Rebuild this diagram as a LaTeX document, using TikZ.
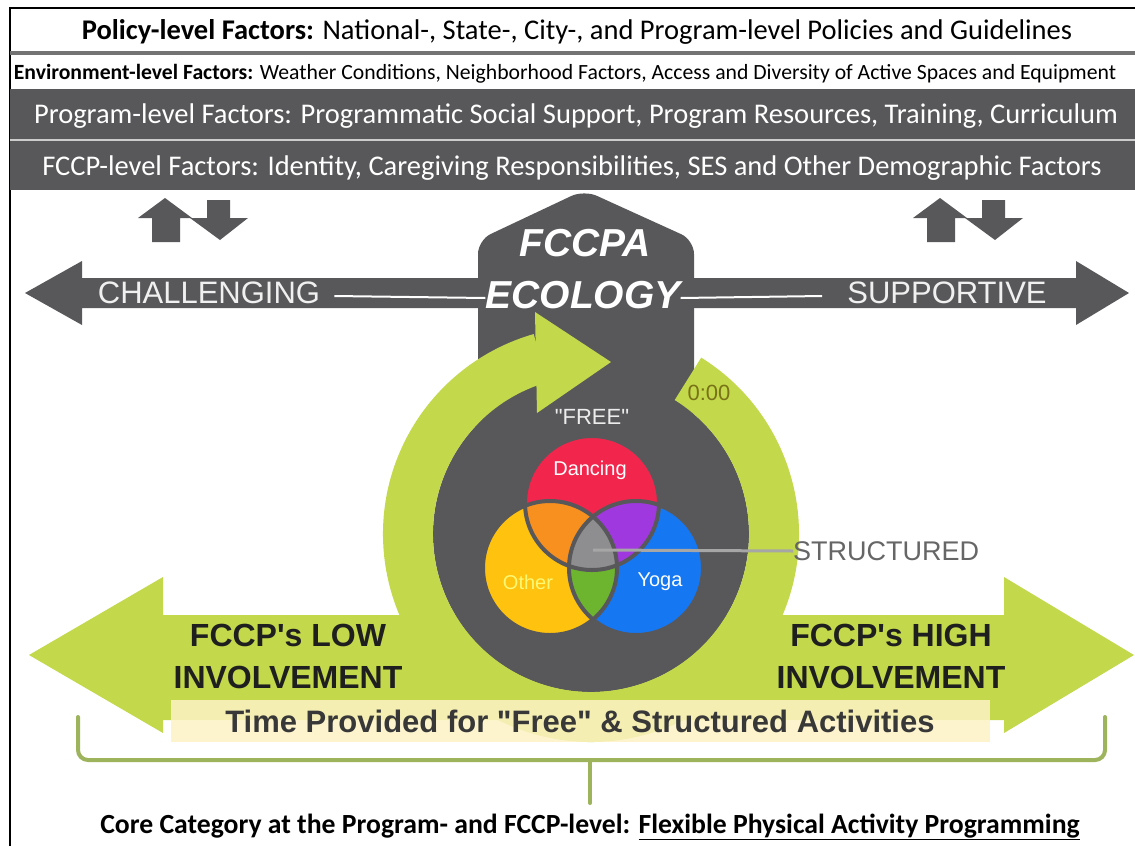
\documentclass[tikz,border=0pt]{standalone}
\usepackage{fontspec}
\setmainfont{Carlito}
\newfontfamily\arialfont{Liberation Sans}
\usetikzlibrary{positioning}

\definecolor{ecogray}{HTML}{58585B}
\definecolor{ecogreen}{HTML}{C3D84A}
\definecolor{bracegreen}{HTML}{9DB35C}
\definecolor{boxyellow}{HTML}{FDF3C6}
\definecolor{dancered}{HTML}{F2264D}
\definecolor{otheryellow}{HTML}{FFC20F}
\definecolor{yogablue}{HTML}{1577F2}
\definecolor{mixorange}{HTML}{F7901E}
\definecolor{mixpurple}{HTML}{A038E0}
\definecolor{mixgreen}{HTML}{6DB52F}
\definecolor{mixgray}{HTML}{8E8E90}

\tikzset{
  updown/.pic={
    \fill[ecogray] (-28,22) -- (-1,2) -- (-13,2) -- (-13,-22) -- (-41,-22) -- (-41,2) -- (-55,2) -- cycle;
    \fill[ecogray] (14,20) -- (37,20) -- (37,2) -- (55,2) -- (27,-20) -- (-3,2) -- (14,2) -- cycle;
  }
}

\begin{document}
\begin{tikzpicture}[x=1pt,y=1pt,
  band text/.style={inner sep=0,font=\fontsize{28.5}{32}\selectfont},
  axis text/.style={inner sep=0,text=gray!12,font=\arialfont\fontsize{31}{36}\selectfont},
  eco title/.style={inner sep=0,text=white,font=\arialfont\bfseries\itshape\fontsize{39}{44}\selectfont},
  venn label/.style={inner sep=0,font=\arialfont\fontsize{20}{24}\selectfont},
  involve/.style={inner sep=0,align=center,text=black!88,font=\arialfont\bfseries\fontsize{32}{42}\selectfont},
  rule line/.style={white,line width=2},
  brace line/.style={bracegreen,line width=4,line cap=round}]
  \useasboundingbox (0,0) rectangle (1135,-846);
  \fill[white] (0,0) rectangle (1135,-846);
  \draw[line width=2] (10,-846) -- (10,-8) -- (1135,-8);

  %factor bands
  \draw[black!55,line width=4] (10,-53) -- (1135,-53);
  \fill[ecogray] (10,-89) rectangle (1135,-190);
  \draw[black!20,line width=2] (10,-140) -- (1135,-140);
  \node[band text] (policy) at (577,-32) {\textbf{Policy-level Factors:} National-, State-, City-, and Program-level Policies and Guidelines};
  \node[band text,font=\fontsize{21.7}{25}\selectfont] (environment) at (565,-74) {\textbf{Environment-level Factors:} Weather Conditions, Neighborhood Factors, Access and Diversity of Active Spaces and Equipment};
  \node[band text,text=white] (program) at (576,-116) {Program-level Factors: Programmatic Social Support, Program Resources, Training, Curriculum};
  \node[band text,text=white] (fccp) at (572,-168) {FCCP-level Factors: Identity, Caregiving Responsibilities, SES and Other Demographic Factors};

  %challenging / supportive axis
  \pic at (193,-220) {updown};
  \pic at (968,-220) {updown};
  \fill[ecogray] (25,-293) -- (82,-261) -- (82,-278) -- (1076,-278) -- (1076,-261) -- (1129,-293)
    -- (1076,-325) -- (1076,-308) -- (82,-308) -- (82,-325) -- cycle;

  %involvement axis
  \fill[ecogreen] (29,-655) -- (163,-577) -- (163,-615) -- (1004,-615) -- (1004,-577) -- (1134,-655)
    -- (1004,-733) -- (1004,-720) -- (163,-720) -- (163,-733) -- cycle;

  %ecology hub
  \coordinate (hub) at (591,-534);
  \fill[ecogray,rounded corners=14] (478,-450) -- (478,-240) -- (584,-190) -- (694,-240) -- (694,-450) -- cycle;
  \fill[ecogray] (hub) circle[radius=158];
  \begin{scope}[shift={(hub)}]
    \fill[ecogreen] (58:208) arc[start angle=58,end angle=-254,radius=208]
      -- (106:158) arc[start angle=-254,end angle=58,radius=158] -- cycle;
    \fill[ecogreen] (-56,222) -- (20,172) -- (-54,121) -- cycle;
  \end{scope}

  %activities
  \coordinate (dance) at (592,-503);
  \coordinate (other) at (550,-568);
  \coordinate (yoga) at (636,-568);
  \fill[otheryellow] (other) circle[radius=67];
  \fill[yogablue] (yoga) circle[radius=67];
  \fill[dancered] (dance) circle[radius=67];
  \begin{scope}
    \clip (dance) circle[radius=67];
    \fill[mixorange] (other) circle[radius=67];
    \fill[mixpurple] (yoga) circle[radius=67];
  \end{scope}
  \begin{scope}
    \clip (other) circle[radius=67];
    \fill[mixgreen] (yoga) circle[radius=67];
    \clip (dance) circle[radius=67];
    \fill[mixgray] (yoga) circle[radius=67];
  \end{scope}
  \draw[ecogray,line width=4] (other) circle[radius=67] (yoga) circle[radius=67] (dance) circle[radius=67];

  \node[venn label,text=white] (dancing) at (590,-470) {Dancing};
  \node[venn label,text=yellow!55] (otherlabel) at (528,-582) {Other};
  \node[venn label,text=white] (yogalabel) at (660,-582) {Yoga};
  \node[venn label,text=gray!15,font=\arialfont\fontsize{22}{26}\selectfont] (free) at (592,-417) {"FREE"};
  \node[venn label,text=olive!80!black,font=\arialfont\fontsize{22}{26}\selectfont] (clock) at (709,-393) {0:00};
  \coordinate (structcore) at (593,-550);
  \node[venn label,anchor=west,text=black!60,font=\arialfont\fontsize{27}{30}\selectfont] (structured) at (793,-551) {STRUCTURED};
  \draw[black!35,line width=3] (structcore) -- (structured.west);

  %axis labels
  \node[axis text] (challenging) at (209,-293) {CHALLENGING};
  \node[axis text] (supportive) at (947,-293) {SUPPORTIVE};
  \node[eco title] (fccpa) at (585,-243) {FCCPA};
  \node[eco title] (ecology) at (583,-295) {ECOLOGY};
  \draw[rule line] ([xshift=14pt,yshift=-3pt]challenging.east) -- ([yshift=-3pt]ecology.west);
  \draw[rule line] ([yshift=-3pt]ecology.east) -- ([xshift=-25pt,yshift=-3pt]supportive.west);
  \node[involve] (low) at (288,-656) {FCCP's LOW\\INVOLVEMENT};
  \node[involve] (high) at (891,-656) {FCCP's HIGH\\INVOLVEMENT};

  %time box and core category
  \node[fill=boxyellow,fill opacity=0.85,text opacity=1,minimum width=819,minimum height=42,inner sep=0,
    text=black!78,font=\arialfont\bfseries\fontsize{31}{34}\selectfont] (timebox) at (580,-721)
    {Time Provided for "Free" \& Structured Activities};
  \draw[brace line,rounded corners=10] (78,-717) -- (78,-760) -- (1105,-760) -- (1105,-717);
  \draw[brace line] (590,-760) -- (590,-803);
  \node[inner sep=0,font=\bfseries\fontsize{27.7}{32}\selectfont] (core) at (590,-827)
    {Core Category at the Program- and FCCP-level: \underline{Flexible Physical Activity Programming}};
\end{tikzpicture}
\end{document}
